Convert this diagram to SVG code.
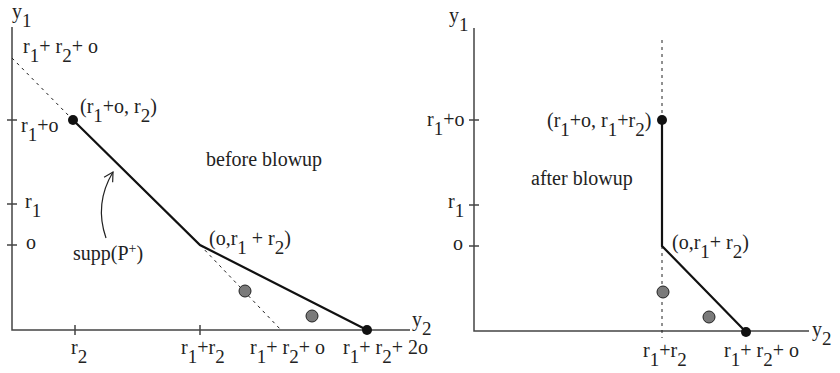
<svg xmlns="http://www.w3.org/2000/svg" width="840" height="373" viewBox="0 0 840 373">
<style>
text{font-family:"Liberation Serif","Times New Roman",serif;font-size:20px;fill:#222}
.sub{font-size:19px}
.sup{font-size:14px}
.axis{stroke:#444;stroke-width:1.5;fill:none}
.dash{stroke:#222;stroke-width:1;stroke-dasharray:3,4;fill:none}
.poly{stroke:#111;stroke-width:2.2;fill:none;stroke-linejoin:miter}
.bdot{fill:#111}
.gdot{fill:#7a7a7a;stroke:#222;stroke-width:1}
</style>
<defs>
<marker id="ah" viewBox="0 0 12 12" refX="10" refY="6" markerWidth="12" markerHeight="12" markerUnits="userSpaceOnUse" orient="auto">
<path d="M1,1 L10,6 L1,11" fill="none" stroke="#222" stroke-width="1.2"/>
</marker>
</defs>
<g id="connectors">
<g id="left-axes">
<path class="axis" d="M12,27 V330 H410"/>
<path class="axis" d="M7,120 H17 M7,204 H17 M7,245 H17 M75,325 V335 M200,325 V335"/>
</g>
<path class="dash" d="M12,58 L73,120"/>
<path class="dash" d="M200,245 L281,330"/>
<path class="poly" d="M73,120 L200,245 L367,330"/>
<path d="M106,238 C98,215 101,192 113,172" fill="none" stroke="#222" stroke-width="1.2" marker-end="url(#ah)"/>
<g id="right-axes">
<path class="axis" d="M474,28 V331 H809"/>
<path class="axis" d="M469,120 H479 M469,205 H479 M469,246 H479"/>
</g>
<path class="dash" d="M662,40 V120 M662,246 V338"/>
<path class="poly" d="M662,120 L662,246 L746,332"/>
</g>
<g id="left-nodes">
<circle id="pt-a" class="bdot" cx="73" cy="120" r="5"/>
<circle id="pt-b" class="bdot" cx="367" cy="330" r="5"/>
<circle id="pt-g1" class="gdot" cx="245" cy="291" r="6"/>
<circle id="pt-g2" class="gdot" cx="312" cy="316" r="6"/>
</g>
<g id="right-nodes">
<circle id="pt-c" class="bdot" cx="662" cy="120" r="5"/>
<circle id="pt-d" class="bdot" cx="746" cy="332" r="5"/>
<circle id="pt-g3" class="gdot" cx="663" cy="292" r="6"/>
<circle id="pt-g4" class="gdot" cx="709" cy="317" r="6"/>
</g>
<g id="left-labels">
<text x="12" y="18">y<tspan class="sub" dy="9">1</tspan></text>
<text x="23" y="53">r<tspan class="sub" dy="9">1</tspan><tspan dy="-9">+ r</tspan><tspan class="sub" dy="9">2</tspan><tspan dy="-9">+ o</tspan></text>
<text x="80" y="113">(r<tspan class="sub" dy="9">1</tspan><tspan dy="-9">+o, r</tspan><tspan class="sub" dy="9">2</tspan><tspan dy="-9">)</tspan></text>
<text x="21" y="132">r<tspan class="sub" dy="9">1</tspan><tspan dy="-9">+o</tspan></text>
<text x="206" y="166">before blowup</text>
<text x="25" y="208">r<tspan class="sub" dy="9">1</tspan></text>
<text x="26" y="249">o</text>
<text x="73" y="260">supp(P<tspan class="sup" dy="-7">+</tspan><tspan dy="7">)</tspan></text>
<text x="209" y="245">(o,r<tspan class="sub" dy="9">1</tspan><tspan dy="-9"> + r</tspan><tspan class="sub" dy="9">2</tspan><tspan dy="-9">)</tspan></text>
<text x="412" y="326">y<tspan class="sub" dy="9">2</tspan></text>
<text x="71" y="354">r<tspan class="sub" dy="9">2</tspan></text>
<text x="181" y="354">r<tspan class="sub" dy="9">1</tspan><tspan dy="-9">+r</tspan><tspan class="sub" dy="9">2</tspan></text>
<text x="250" y="354">r<tspan class="sub" dy="9">1</tspan><tspan dy="-9">+ r</tspan><tspan class="sub" dy="9">2</tspan><tspan dy="-9">+ o</tspan></text>
<text x="343" y="354">r<tspan class="sub" dy="9">1</tspan><tspan dy="-9">+ r</tspan><tspan class="sub" dy="9">2</tspan><tspan dy="-9">+ 2o</tspan></text>
</g>
<g id="right-labels">
<text x="449" y="22">y<tspan class="sub" dy="9">1</tspan></text>
<text x="427" y="126">r<tspan class="sub" dy="9">1</tspan><tspan dy="-9">+o</tspan></text>
<text x="547" y="127">(r<tspan class="sub" dy="9">1</tspan><tspan dy="-9">+o, r</tspan><tspan class="sub" dy="9">1</tspan><tspan dy="-9">+r</tspan><tspan class="sub" dy="9">2</tspan><tspan dy="-9">)</tspan></text>
<text x="531" y="185">after blowup</text>
<text x="448" y="208">r<tspan class="sub" dy="9">1</tspan></text>
<text x="453" y="250">o</text>
<text x="672" y="249">(o,r<tspan class="sub" dy="9">1</tspan><tspan dy="-9">+ r</tspan><tspan class="sub" dy="9">2</tspan><tspan dy="-9">)</tspan></text>
<text x="812" y="336">y<tspan class="sub" dy="9">2</tspan></text>
<text x="643" y="357">r<tspan class="sub" dy="9">1</tspan><tspan dy="-9">+r</tspan><tspan class="sub" dy="9">2</tspan></text>
<text x="724" y="357">r<tspan class="sub" dy="9">1</tspan><tspan dy="-9">+ r</tspan><tspan class="sub" dy="9">2</tspan><tspan dy="-9">+ o</tspan></text>
</g>
</svg>
